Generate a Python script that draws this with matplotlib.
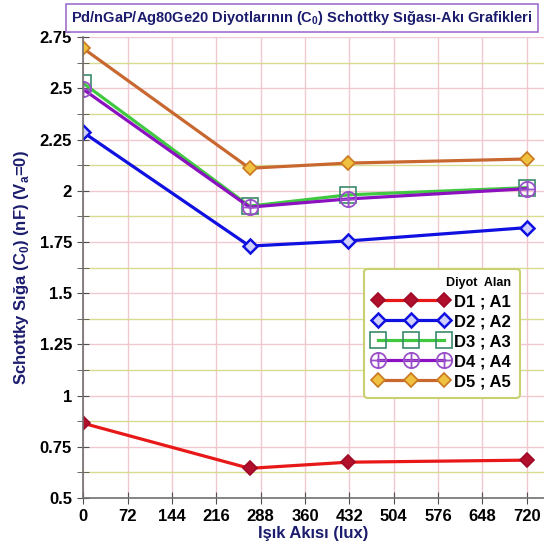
import matplotlib.pyplot as plt
from matplotlib.path import Path
from matplotlib.ticker import MultipleLocator, FuncFormatter

plt.rcParams["font.family"] = ["Liberation Sans", "DejaVu Sans"]
plt.rcParams["font.weight"] = "bold"
plt.rcParams["mathtext.fontset"] = "custom"
plt.rcParams["mathtext.bf"] = "Liberation Sans:bold"
plt.rcParams["mathtext.rm"] = "Liberation Sans"

# light flux (lux)
x = [0, 270, 430, 720]

d1 = [0.865, 0.645, 0.675, 0.685]
d2 = [2.285, 1.73, 1.755, 1.82]
d3 = [2.525, 1.925, 1.98, 2.015]
d4 = [2.495, 1.92, 1.96, 2.01]
d5 = [2.695, 2.11, 2.135, 2.155]

labels = ["D1 ; A1", "D2 ; A2", "D3 ; A3", "D4 ; A4", "D5 ; A5"]
xticks = [0, 72, 144, 216, 288, 360, 432, 504, 576, 648, 720]

navy = "#1c1c6e"

# circle with a cross inside
cross = Path([(-1, 0), (1, 0), (0, -1), (0, 1)],
             [Path.MOVETO, Path.LINETO, Path.MOVETO, Path.LINETO])
oplus = Path.make_compound_path(Path.unit_circle(), cross)

fig = plt.figure(figsize=(5.44, 5.54), dpi=100)
ax = fig.add_axes([0.153, 0.101, 0.847, 0.832])

ax.plot(x, d1, "-D", c="#e81818", lw=2.3, ms=7, mfc="#b0102c", mec="#a00828", mew=1.2, label=labels[0])
ax.plot(x, d2, "-D", c="#1010e0", lw=2.3, ms=7, mfc="#d0d0ff", mec="#1010e0", mew=1.8, label=labels[1])
ax.plot(x, d3, "-s", c="#40c840", lw=2.3, ms=12, mfc="none", mec="#3a8a6a", mew=1.2, label=labels[2])
ax.plot(x, d4, "-", c="#8a10c0", lw=2.3, marker=oplus, ms=11, mfc="none", mec="#9a50c8", mew=1.3, label=labels[3])
ax.plot(x, d5, "-D", c="#c86830", lw=2.3, ms=7.5, mfc="#f0c040", mec="#c87820", mew=1.2, label=labels[4])

ax.set_xlim(0, 748)
ax.set_ylim(0.5, 2.75)
ax.set_xticks(xticks)
ax.yaxis.set_major_locator(MultipleLocator(0.25))
ax.yaxis.set_minor_locator(MultipleLocator(0.125))
ax.yaxis.set_major_formatter(FuncFormatter(lambda v, p: "{:g}".format(v)))

ax.grid(True, which="major", axis="x", color="#f2c8d0", lw=1)
ax.grid(True, which="major", axis="y", color="#f2c8d0", lw=1)
ax.grid(True, which="minor", axis="y", color="#d8dc90", lw=1)
ax.set_axisbelow(True)

for s in ["top", "right"]:
    ax.spines[s].set_visible(False)
for s in ["left", "bottom"]:
    ax.spines[s].set_color("#707070")
    ax.spines[s].set_linewidth(1.2)

ax.tick_params(which="major", direction="inout", length=9, color="#505050", labelsize=12)
ax.tick_params(which="minor", direction="inout", length=9, color="#505050")

ax.set_xlabel("Işık Akısı (lux)", fontsize=12, fontweight="bold", color=navy, labelpad=1)
ax.set_ylabel("Schottky Sığa (C$_\\mathbf{0}$) (nF) (V$_\\mathbf{a}$=0)", fontsize=12,
              fontweight="bold", color=navy, labelpad=6)

fig.text(0.555, 0.968, "Pd/nGaP/Ag80Ge20 Diyotlarının (C$_\\mathbf{0}$) Schottky Sığası-Akı Grafikleri",
         ha="center", va="center", fontsize=10.5, fontweight="bold", color=navy,
         bbox=dict(boxstyle="square,pad=0.35", fc="white", ec="#a070d0", lw=1.2))

leg = ax.legend(loc="lower right", bbox_to_anchor=(0.965, 0.2), numpoints=3, handlelength=4.6,
                prop={"weight": "bold", "size": 12}, title="Diyot  Alan",
                title_fontproperties={"weight": "bold", "size": 9}, alignment="right",
                fancybox=True, framealpha=1, edgecolor="#c8d070", labelspacing=0.3,
                handletextpad=0.3, borderpad=0.5)
leg.get_frame().set_linewidth(1.5)

fig.savefig("out.png", dpi=100)
